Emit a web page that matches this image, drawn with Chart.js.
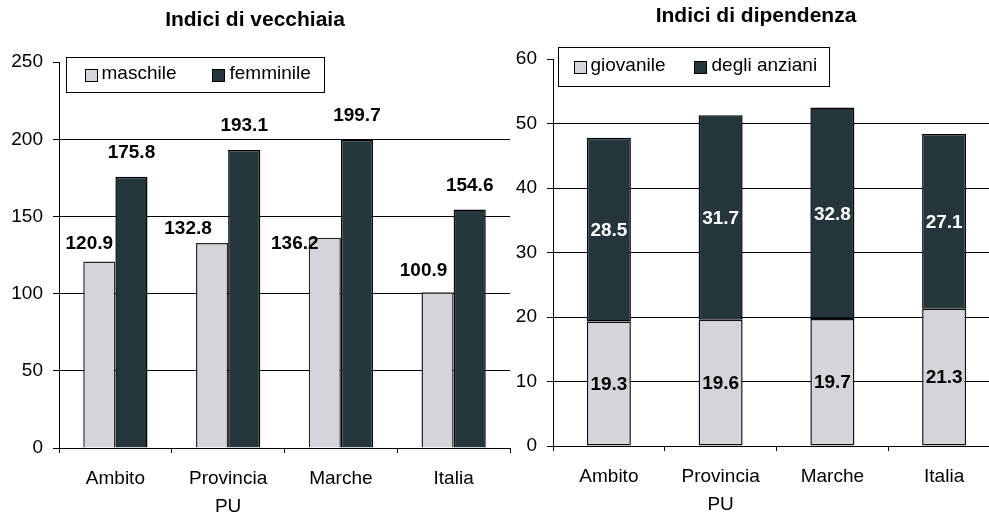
<!DOCTYPE html>
<html><head><meta charset="utf-8">
<script src="https://cdn.jsdelivr.net/npm/chart.js@4/dist/chart.umd.min.js"></script>
<style>
html,body{margin:0;padding:0;background:#fff;overflow:hidden;width:989px;height:513px;position:relative}
#c1{position:absolute;left:0;top:0}
#c2{position:absolute;left:512px;top:0}
</style></head><body>
<canvas id="c1" width="512" height="513"></canvas>
<canvas id="c2" width="490" height="513"></canvas>
<script>
// ---- data ----
const categories = ['Ambito', ['Provincia', 'PU'], 'Marche', 'Italia'];
const vecchiaiaMaschile = [120.9, 132.8, 136.2, 100.9];
const vecchiaiaFemminile = [175.8, 193.1, 199.7, 154.6];
const dipGiovanile = [19.3, 19.6, 19.7, 21.3];
const dipAnziani = [28.5, 31.7, 32.8, 27.1];
const vecchiaiaTicks = [0, 50, 100, 150, 200, 250];
const dipendenzaTicks = [0, 10, 20, 30, 40, 50, 60];

const FAMILY = '"Liberation Sans", Arial, Helvetica, sans-serif';
const LIGHT = '#d5d4db';
const DARK = '#24353b';
Chart.defaults.color = '#000';
Chart.defaults.font.family = FAMILY;

const barValues = {
  id: 'barValues',
  afterDatasetsDraw(chart, args, opts) {
    const ctx = chart.ctx;
    ctx.save();
    ctx.font = 'bold 19px ' + FAMILY;
    ctx.textAlign = 'center';
    ctx.textBaseline = 'middle';
    chart.data.datasets.forEach((ds, di) => {
      const meta = chart.getDatasetMeta(di);
      meta.data.forEach((el, i) => {
        const txt = ds.data[i].toFixed(1);
        if (opts.inside) {
          ctx.fillStyle = opts.colors[di];
          ctx.fillText(txt, el.x, (el.y + el.base) / 2 + 1);
        } else {
          const n = (opts.nudge && opts.nudge[di] && opts.nudge[di][i]) || [0, opts.gap];
          ctx.fillStyle = '#000';
          ctx.fillText(txt, el.x + n[0], el.y - n[1]);
        }
      });
    });
    ctx.restore();
  }
};

const boxLegend = {
  id: 'boxLegend',
  afterDraw(chart, args, o) {
    const ctx = chart.ctx, a = chart.chartArea;
    ctx.save();
    ctx.font = '19px ' + FAMILY;
    const items = chart.data.datasets.map(ds => ({ label: ds.label, color: ds.backgroundColor }));
    const sq = 13, tg = 4;
    let w = o.padL + o.padR;
    items.forEach((it, k) => { w += sq + tg + ctx.measureText(it.label).width + (k ? o.gap : 0); });
    const x0 = Math.round(a.left + o.dx) + 0.5, y0 = Math.round(a.top + o.dy) + 0.5;
    ctx.fillStyle = '#fff';
    ctx.fillRect(x0, y0, w, o.h);
    ctx.strokeStyle = '#000';
    ctx.lineWidth = 1;
    ctx.strokeRect(x0, y0, Math.round(w), o.h);
    let x = x0 + o.padL;
    const cy = y0 + o.h / 2;
    items.forEach((it, k) => {
      if (k) x += o.gap;
      ctx.fillStyle = it.color;
      ctx.fillRect(Math.round(x) + 0.5, Math.round(cy - sq / 2) + 0.5, sq - 1, sq - 1);
      ctx.strokeRect(Math.round(x) + 0.5, Math.round(cy - sq / 2) + 0.5, sq - 1, sq - 1);
      x += sq + tg;
      ctx.fillStyle = '#000';
      ctx.textBaseline = 'middle';
      ctx.textAlign = 'left';
      ctx.fillText(it.label, x, cy - 1);
      x += ctx.measureText(it.label).width;
    });
    ctx.restore();
  }
};

function yScale(ticksArr, width) {
  const top = ticksArr[ticksArr.length - 1];
  return {
    min: ticksArr[0], max: top,
    afterBuildTicks: s => { s.ticks = ticksArr.map(v => ({ value: v })); },
    afterFit: s => { s.width = width; },
    border: { display: true, color: '#000', width: 1 },
    grid: {
      color: c => (c.tick && c.tick.value === top) ? 'rgba(0,0,0,0)' : '#000',
      tickColor: '#000', tickLength: 6, lineWidth: 1
    },
    ticks: { font: { size: 19, family: FAMILY }, color: '#000', padding: 10 }
  };
}
function xScale(height, stacked) {
  return {
    stacked: stacked,
    afterFit: s => { s.height = height; },
    border: { display: true, color: '#000', width: 1 },
    grid: { display: true, drawOnChartArea: false, drawTicks: true, tickLength: 5, color: '#000', offset: true },
    ticks: { font: { size: 19, family: FAMILY, lineHeight: 1.45 }, color: '#000', padding: 12, maxRotation: 0, autoSkip: false }
  };
}

new Chart(document.getElementById('c1'), {
  type: 'bar',
  data: {
    labels: categories,
    datasets: [
      { label: 'maschile', data: vecchiaiaMaschile, backgroundColor: LIGHT, borderColor: '#2a2a2a', borderWidth: 1.5,
        categoryPercentage: 0.57, barPercentage: 1 },
      { label: 'femminile', data: vecchiaiaFemminile, backgroundColor: DARK, borderColor: '#000', borderWidth: 1.5,
        categoryPercentage: 0.57, barPercentage: 1 }
    ]
  },
  options: {
    responsive: false, animation: false,
    layout: { padding: { left: 0, right: 2, top: 0, bottom: 0 } },
    scales: { x: xScale(65, false), y: yScale(vecchiaiaTicks, 59) },
    plugins: {
      legend: { display: false }, tooltip: { enabled: false },
      title: { display: true, text: 'Indici di vecchiaia', color: '#000',
        font: { size: 21, weight: 'bold', family: FAMILY }, padding: { top: 8, bottom: 29 } },
      barValues: { inside: false, gap: 24,
        nudge: [[[-10, 18], [-24, 14], [-30, -6], [-14, 22]], null] },
      boxLegend: { dx: 7, dy: -5, h: 35, padL: 18, gap: 36, padR: 14 }
    }
  },
  plugins: [barValues, boxLegend]
});

new Chart(document.getElementById('c2'), {
  type: 'bar',
  data: {
    labels: categories,
    datasets: [
      { label: 'giovanile', data: dipGiovanile, backgroundColor: LIGHT, borderColor: '#111', borderWidth: 1.5,
        borderSkipped: false, categoryPercentage: 0.394, barPercentage: 1 },
      { label: 'degli anziani', data: dipAnziani, backgroundColor: DARK, borderColor: '#000', borderWidth: 1.5,
        borderSkipped: false, categoryPercentage: 0.394, barPercentage: 1 }
    ]
  },
  options: {
    responsive: false, animation: false,
    layout: { padding: { left: 0, right: 2, top: 0, bottom: 0 } },
    scales: { x: xScale(67, true), y: Object.assign(yScale(dipendenzaTicks, 41), { stacked: true }) },
    plugins: {
      legend: { display: false }, tooltip: { enabled: false },
      title: { display: true, text: 'Indici di dipendenza', color: '#000',
        font: { size: 21, weight: 'bold', family: FAMILY }, padding: { top: 4, bottom: 30 } },
      barValues: { inside: true, colors: ['#000', '#fff'] },
      boxLegend: { dx: 5, dy: -12, h: 39, padL: 15, gap: 29, padR: 12 }
    }
  },
  plugins: [barValues, boxLegend]
});
</script>
</body></html>
